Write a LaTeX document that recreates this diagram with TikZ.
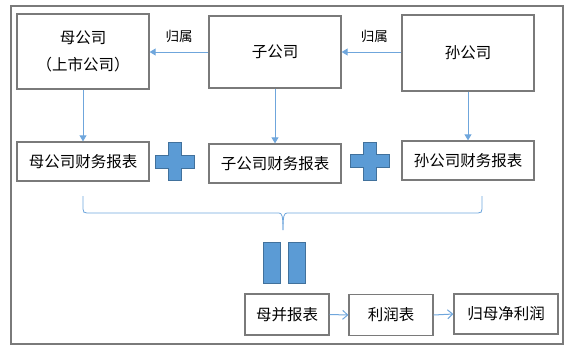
\documentclass[tikz,border=0pt]{standalone}
\usepackage{fontspec}
\setmainfont{Noto Sans CJK SC}
\usetikzlibrary{arrows.meta,calc}
\definecolor{boxgray}{HTML}{7A7A7A}
\definecolor{lineblue}{HTML}{6FA6DC}
\definecolor{fillblue}{HTML}{5B9BD5}
\definecolor{edgeblue}{HTML}{41719C}
\tikzset{
  box/.style={draw=boxgray,line width=1.3pt,fill=white,inner sep=0pt,font=\fontsize{15.5}{18}\selectfont},
  link/.style={draw=lineblue,line width=1pt,-{Triangle[length=6pt,width=7pt]}},
  openlink/.style={draw=lineblue,line width=1pt,-{Straight Barb[length=5pt,width=9pt]}},
  lbl/.style={font=\fontsize{13.5}{15}\selectfont,inner sep=0pt},
  bluebar/.style={fill=fillblue,draw=edgeblue,line width=0.8pt},
  bracepath/.style={draw=lineblue,line width=0.8pt}
}
\newcommand{\plusshape}[2]{%
  \filldraw[bluebar] ($(#1,#2)+(-6.5,-19)$) -- ++(13,0) -- ++(0,12.5) -- ++(13,0) -- ++(0,13) -- ++(-13,0) -- ++(0,12.5) -- ++(-13,0) -- ++(0,-12.5) -- ++(-13,0) -- ++(0,-13) -- ++(13,0) -- cycle;}
\begin{document}
\begin{tikzpicture}[x=1pt,y=-1pt]
\useasboundingbox (0,0) rectangle (567,354);
\draw[boxgray,line width=1.3pt] (11,6) rectangle (563,344);
% top row
\node[box,minimum width=132pt,minimum height=75pt,align=center] (mom) at (83,51.5) {母公司\\[9pt]（上市公司）};
\node[box,minimum width=132pt,minimum height=72pt] (sub) at (275,52) {子公司};
\node[box,minimum width=132pt,minimum height=76pt] (grand) at (468,53) {孙公司};
% report row
\node[box,minimum width=132pt,minimum height=39pt] (momr) at (83,161.5) {母公司财务报表};
\node[box,minimum width=132pt,minimum height=39pt] (subr) at (275,163.5) {子公司财务报表};
\node[box,minimum width=132pt,minimum height=39pt] (grandr) at (468,160.5) {孙公司财务报表};
% bottom row
\node[box,minimum width=84pt,minimum height=41pt] (merge) at (287,314.5) {母并报表};
\node[box,minimum width=84pt,minimum height=41pt] (profit) at (391,315) {利润表};
\node[box,minimum width=104pt,minimum height=40pt] (net) at (506,314) {归母净利润};
% horizontal ownership arrows
\draw[link] (sub.west |- 0,52) -- (mom.east |- 0,52) node[lbl,pos=0.5,above=9pt] (l1) {归属};
\draw[link] (grand.west |- 0,52) -- (sub.east |- 0,52) node[lbl,pos=0.45,above=9pt] (l2) {归属};
% vertical arrows
\draw[link] (mom.south) -- (momr.north);
\draw[link] (sub.south) -- (subr.north);
\draw[link] (grand.south) -- (grandr.north);
% plus signs
\plusshape{174.5}{161.5}
\plusshape{369.5}{161}
% brace
\coordinate (bl) at (83,196);
\coordinate (br) at (482,196);
\coordinate (tip) at (283,230);
\draw[bracepath] (bl) -- (83,209) .. controls (83,212) and (84,213) .. (87,213) -- (279,213) .. controls (282,213) and (283,216) .. (tip);
\draw[bracepath] (br) -- (482,209) .. controls (482,212) and (481,213) .. (478,213) -- (287,213) .. controls (284,213) and (283,216) .. (tip);
% equals bars
\filldraw[bluebar] (263,242) rectangle (280,283);
\filldraw[bluebar] (288,242) rectangle (305,283);
% bottom arrows
\draw[openlink] (merge.east) -- (profit.west);
\draw[openlink] (profit.east) -- (net.west);
\end{tikzpicture}
\end{document}
